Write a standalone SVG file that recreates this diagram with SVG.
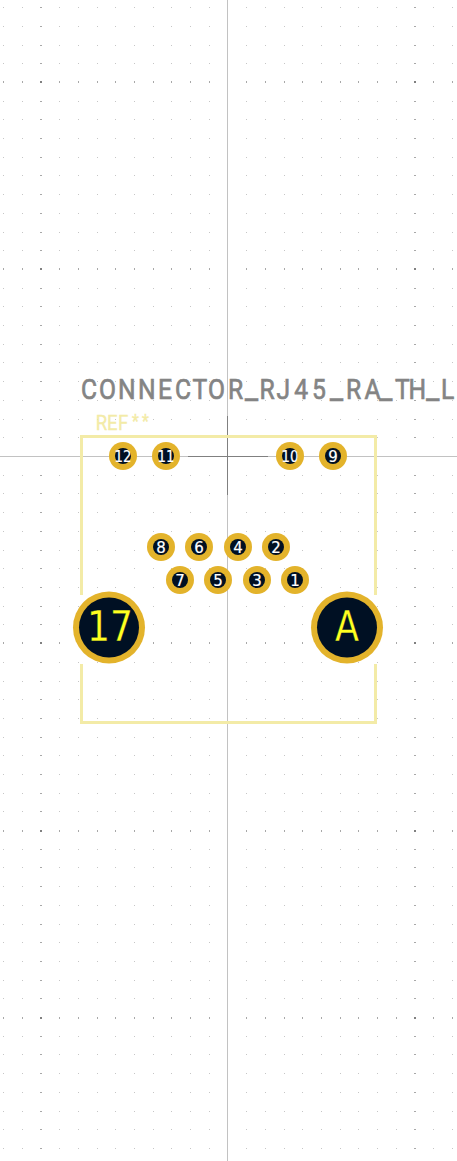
<svg xmlns="http://www.w3.org/2000/svg" xmlns:xlink="http://www.w3.org/1999/xlink" width="457" height="1161" viewBox="0 0 457 1161">
<style>
.grid{fill:none;shape-rendering:crispEdges;stroke-width:1}
.minor{stroke:#c6c6c6;stroke-dasharray:1 18 1 17 2 17 1 18 1 18 1 17 1 18 1 18 1 17 1 18 1 18 1 36 1 18 1 18 1 17 1 18 1 18 1 17 1 18 1 18 1 17 2 17 1 18 1 50}
.mcol{stroke:#a8a8a8;stroke-dasharray:2 372 2 999}
.mrow{stroke:#a8a8a8;stroke-width:2;stroke-dasharray:1 18 1 17 2 17 1 18 1 18 1 17 1 18 1 18 1 17 1 18 1 18 1 36 1 18 1 18 1 17 1 18 1 18 1 17 1 18 1 18 1 17 2 17 1 18 1 50}
.cross{fill:#808080;shape-rendering:crispEdges}
.axis{stroke:#c2c2c2;stroke-width:1;fill:none;shape-rendering:crispEdges}
.axisd{stroke:#808080;stroke-width:1;fill:none;shape-rendering:crispEdges}
.silk{fill:none;stroke:#f3eba7;stroke-width:3}
.pad{fill:#e3b32b}
.hole{fill:#001023}
.n{font-family:"DejaVu Sans",sans-serif;font-size:15px;fill:#ffffff;stroke:#ffffff;stroke-width:.2;text-anchor:middle}
.big{font-family:"DejaVu Sans",sans-serif;font-size:42px;fill:#ffff20;stroke:#001023;stroke-width:.3;text-anchor:middle}
.us{font-size:34px;stroke-width:.3}
</style>
<defs>
<path id="rows" d="M3 7.5H500M3 26.5H500M3 45.5H500M3 63.5H500M3 101.5H500M3 119.5H500M3 138.5H500M3 157.5H500M3 175.5H500M3 194.5H500M3 213.5H500M3 232.5H500M3 250.5H500M3 288.5H500M3 306.5H500M3 325.5H500M3 344.5H500M3 362.5H500M3 381.5H500M3 400.5H500M3 419.5H500M3 437.5H500M3 475.5H500M3 493.5H500M3 512.5H500M3 531.5H500M3 550.5H500M3 568.5H500M3 587.5H500M3 606.5H500M3 624.5H500M3 662.5H500M3 681.5H500M3 699.5H500M3 718.5H500M3 737.5H500M3 755.5H500M3 774.5H500M3 793.5H500M3 811.5H500M3 849.5H500M3 867.5H500M3 886.5H500M3 905.5H500M3 924.5H500M3 942.5H500M3 961.5H500M3 980.5H500M3 998.5H500M3 1036.5H500M3 1054.5H500M3 1073.5H500M3 1092.5H500M3 1111.5H500M3 1129.5H500M3 1148.5H500"/>
<path id="majors" d="M3 82H500M3 269H500M3 643H500M3 831H500M3 1018H500"/>
</defs>
<g id="grid" class="grid">
<use href="#rows" class="minor"/>
<use href="#rows" class="mcol" transform="translate(37 0)"/>
<use href="#majors" class="mrow"/>
<path class="cross" d="M40 81h2v2h-2zM414 81h2v2h-2zM40 268h2v2h-2zM414 268h2v2h-2zM40 642h2v2h-2zM414 642h2v2h-2zM40 830h2v2h-2zM414 830h2v2h-2zM40 1017h2v2h-2zM414 1017h2v2h-2z"/>
</g>
<g id="axes">
<path class="axis" d="M227.5 0V1161M0 456.5H457"/>
<path class="axisd" d="M227.5 416V495M188 456.5H268"/>
</g>
<g id="silkscreen">
<path class="silk" d="M81.5 595V436.5H375.5V595M81.5 664V722.5H375.5V664"/>
</g>
<text id="value" transform="scale(.88 1)" y="399" font-family="Roboto,sans-serif" font-size="28" fill="#848484" stroke="#848484" stroke-width=".7"><tspan x="92 112.5 134.1 156.8 179.5 198.9 218.8 236.4 259.1">CONNECTOR</tspan><tspan class="us" x="278">_</tspan><tspan x="294.9 314.3 334.5 354.5">RJ45</tspan><tspan class="us" x="374.7">_</tspan><tspan x="393.2 414.2">RA</tspan><tspan class="us" x="430.7">_</tspan><tspan x="448.9 464.2">TH</tspan><tspan class="us" x="484">_</tspan><tspan x="501.1">L</tspan></text>
<text id="ref" transform="scale(.88 1)" font-family="Roboto,sans-serif" font-size="21" fill="#f3eba7" stroke="#f3eba7" stroke-width=".4"><tspan y="430" x="108.8 121.6 134.1">REF</tspan><tspan y="427.5" font-size="18" x="150 161.5">**</tspan></text>
<g id="pad-12"><circle class="pad" cx="123" cy="456" r="14"/><circle class="hole" cx="123" cy="456" r="8"/><text class="n" x="123" y="462" textLength="17" lengthAdjust="spacingAndGlyphs">12</text></g>
<g id="pad-11"><circle class="pad" cx="166" cy="456" r="14"/><circle class="hole" cx="166" cy="456" r="8"/><text class="n" x="166" y="462" textLength="17" lengthAdjust="spacingAndGlyphs">11</text></g>
<g id="pad-10"><circle class="pad" cx="290" cy="456" r="14"/><circle class="hole" cx="290" cy="456" r="8"/><text class="n" x="290" y="462" textLength="17" lengthAdjust="spacingAndGlyphs">10</text></g>
<g id="pad-9"><circle class="pad" cx="333" cy="456" r="14"/><circle class="hole" cx="333" cy="456" r="8"/><text class="n" x="333" y="461.5">9</text></g>
<g id="pad-8"><circle class="pad" cx="161" cy="547" r="14"/><circle class="hole" cx="161" cy="547" r="8"/><text class="n" x="161" y="552.5">8</text></g>
<g id="pad-6"><circle class="pad" cx="199" cy="547" r="14"/><circle class="hole" cx="199" cy="547" r="8"/><text class="n" x="199" y="552.5">6</text></g>
<g id="pad-4"><circle class="pad" cx="238" cy="547" r="14"/><circle class="hole" cx="238" cy="547" r="8"/><text class="n" x="238" y="552.5">4</text></g>
<g id="pad-2"><circle class="pad" cx="276" cy="547" r="14"/><circle class="hole" cx="276" cy="547" r="8"/><text class="n" x="276" y="552.5">2</text></g>
<g id="pad-7"><circle class="pad" cx="180" cy="580" r="14"/><circle class="hole" cx="180" cy="580" r="8"/><text class="n" x="180" y="585.5">7</text></g>
<g id="pad-5"><circle class="pad" cx="218" cy="580" r="14"/><circle class="hole" cx="218" cy="580" r="8"/><text class="n" x="218" y="585.5">5</text></g>
<g id="pad-3"><circle class="pad" cx="257" cy="580" r="14"/><circle class="hole" cx="257" cy="580" r="8"/><text class="n" x="257" y="585.5">3</text></g>
<g id="pad-1"><circle class="pad" cx="295" cy="580" r="14"/><circle class="hole" cx="295" cy="580" r="8"/><text class="n" x="295" y="585.5">1</text></g>
<g id="pad-17"><circle class="pad" cx="109" cy="627.5" r="36"/><circle class="hole" cx="109" cy="627.5" r="30"/><text class="big" x="110" y="641" textLength="46" lengthAdjust="spacingAndGlyphs">17</text></g>
<g id="pad-A"><circle class="pad" cx="347" cy="627.5" r="36"/><circle class="hole" cx="347" cy="627.5" r="30"/><text class="big" x="347" y="641" textLength="24" lengthAdjust="spacingAndGlyphs">A</text></g>
<g id="connectors"/>
</svg>
